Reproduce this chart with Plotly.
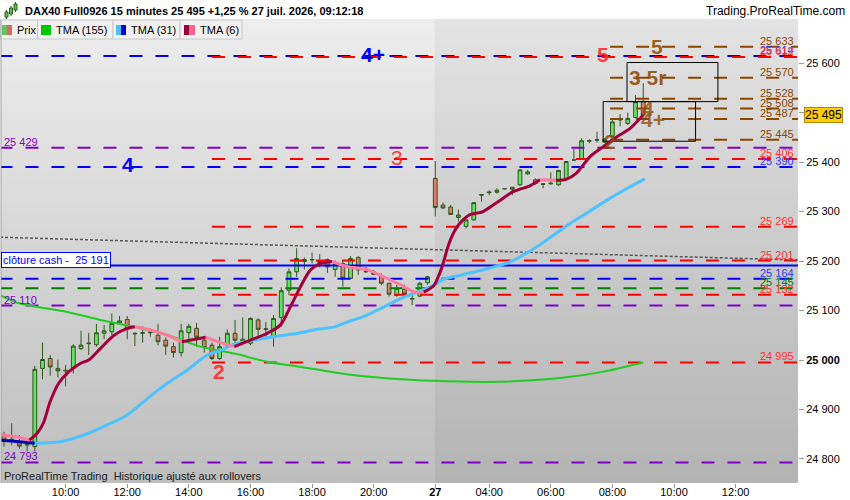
import plotly.graph_objects as go

# 15 min bars: index 0 = 26 juil. 08:00 ... 55 = 21:45, 56 = 27 juil. 02:15 ... 83 = 09:00
opens = [24848, 24835, 24835, 24828, 24825, 24983, 25003, 24983, 24978, 24983,
         25023, 25033, 25031, 25054, 25057, 25075, 25082, 25054, 25054, 25055,
         25050, 25040, 25027, 25015, 25055, 25064, 25040, 25030, 25003, 25030,
         25054, 25037, 25034, 25081, 25062, 25047, 25086, 25141, 25178, 25203,
         25202, 25199, 25203, 25183, 25195, 25165, 25207, 25178, 25178, 25170,
         25155, 25131, 25143, 25123, 25129, 25156,
         25367, 25313, 25309, 25288, 25270, 25283, 25333, 25338, 25339, 25346,
         25349, 25354, 25376, 25364, 25356, 25356, 25354, 25367, 25404, 25407,
         25442, 25444, 25440, 25452, 25485, 25478, 25490, 25522]
highs = [24855, 24872, 24848, 24838, 24988, 25035, 25010, 25001, 24990, 25032,
         25059, 25055, 25073, 25071, 25094, 25089, 25089, 25056, 25068, 25064,
         25073, 25046, 25035, 25073, 25073, 25075, 25046, 25035, 25047, 25062,
         25081, 25086, 25086, 25084, 25077, 25091, 25147, 25185, 25226, 25207,
         25217, 25214, 25205, 25201, 25202, 25210, 25210, 25188, 25182, 25175,
         25156, 25152, 25152, 25131, 25158, 25170,
         25402, 25318, 25313, 25304, 25284, 25319, 25334, 25343, 25347, 25347,
         25349, 25385, 25384, 25367, 25356, 25379, 25384, 25402, 25426, 25448,
         25446, 25461, 25448, 25486, 25497, 25500, 25535, 25559]
lows = [24825, 24828, 24821, 24815, 24815, 24961, 24968, 24965, 24947, 24973,
        25020, 25010, 25027, 25042, 25050, 25073, 25042, 25028, 25035, 25047,
        25030, 25010, 25005, 25007, 25034, 25027, 25015, 25000, 25000, 25027,
        25030, 25034, 25030, 25044, 25047, 25027, 25067, 25131, 25168, 25183,
        25195, 25187, 25176, 25168, 25148, 25163, 25172, 25176, 25172, 25151,
        25128, 25128, 25128, 25111, 25127, 25152,
        25290, 25306, 25293, 25280, 25266, 25282, 25320, 25333, 25336, 25345,
        25333, 25352, 25374, 25354, 25347, 25354, 25352, 25365, 25403, 25405,
        25438, 25439, 25438, 25450, 25472, 25475, 25488, 25493]
closes = [24838, 24840, 24826, 24830, 24981, 25001, 24986, 24978, 24979, 25028,
          25030, 25034, 25055, 25059, 25074, 25079, 25062, 25053, 25055, 25056,
          25037, 25028, 25015, 25059, 25068, 25046, 25025, 25003, 25027, 25054,
          25040, 25042, 25084, 25062, 25063, 25084, 25140, 25178, 25205, 25199,
          25203, 25196, 25188, 25195, 25165, 25205, 25182, 25179, 25173, 25155,
          25133, 25145, 25133, 25124, 25155, 25168,
          25308, 25307, 25294, 25293, 25283, 25318, 25334, 25339, 25343, 25346,
          25345, 25384, 25380, 25357, 25355, 25357, 25383, 25401, 25404, 25443,
          25443, 25445, 25446, 25481, 25488, 25488, 25522, 25495]
bars = list(range(len(closes)))

tick_bars = [8, 16, 24, 32, 40, 48, 56, 63, 71, 79, 87, 95]
tick_labels = ["10:00", "12:00", "14:00", "16:00", "18:00", "20:00", "<b>27</b>",
               "04:00", "06:00", "08:00", "10:00", "12:00"]
price_ticks = [24800, 24900, 25000, 25100, 25200, 25300, 25400, 25500, 25600]

# TMA values
tma6_bars = [-0.5, 1.5, 3.3, 4.3, 5.1, 6.0, 7.1, 8.4, 9.9, 11.0, 12.5, 14.3, 16.0, 17.0,
             19.1, 21.2, 23.1, 25.5, 26.2, 27.7, 29.9, 32.0, 34.2, 35.9, 37.2, 38.5,
             39.8, 41.1, 42.6, 44.5, 47.2, 49.3, 51.5, 53.2, 54.5, 55.8, 56.3, 56.9,
             57.8, 58.7, 59.6, 60.4, 62.2, 63.9, 66.1, 68.3, 69.6, 71.7, 73.0, 74.3,
             76.1, 77.8, 79.6, 81.3, 83.0]
tma6_vals = [24849, 24845, 24838, 24852, 24872, 24916, 24953, 24976, 24993, 25000,
             25023, 25050, 25064, 25067, 25060, 25050, 25037, 25044, 25046, 25037,
             25027, 25040, 25054, 25071, 25108, 25148, 25182, 25195, 25199, 25189,
             25182, 25168, 25152, 25138, 25137, 25150, 25165, 25189, 25236, 25266,
             25283, 25293, 25300, 25317, 25340, 25352, 25364, 25363, 25365, 25377,
             25411, 25431, 25451, 25468, 25495]
tma31_bars = [-0.5, 2.0, 4.0, 7.3, 10.3, 13.4, 16.0, 18.6, 21.2, 23.8, 26.4, 28.2,
              29.9, 34.2, 38.5, 40.3, 42.9, 44.6, 46.4, 48.1, 49.8, 51.6, 53.3, 55.9,
              56.9, 59.5, 62.9, 65.5, 68.2, 70.8, 73.4, 76.0, 78.7, 81.3, 83.2]
tma31_vals = [24838, 24835, 24832, 24835, 24848, 24869, 24889, 24922, 24953, 24980,
              25010, 25020, 25032, 25045, 25055, 25061, 25067, 25077, 25086, 25098,
              25111, 25125, 25135, 25152, 25162, 25172, 25185, 25197, 25219, 25246,
              25275, 25300, 25327, 25350, 25366]
tma155_bars = [-0.5, 2.1, 8.2, 12.5, 16.8, 21.3, 25.5, 29.9, 34.3, 38.6, 45.0, 51.5,
               57.5, 64.5, 72.5, 77.7, 83.0]
tma155_vals = [25131, 25114, 25097, 25081, 25067, 25050, 25027, 25013, 24996, 24986,
               24970, 24961, 24957, 24956, 24964, 24976, 24995]

# horizontal levels
blue_levels = [25614, 25390, 25164]
red_levels = [25612, 25406, 25269, 25201, 25132, 24995]
purple_levels = [25429, 25110, 24793]
green_levels = [25145]
brown_levels = [25633, 25570, 25528, 25508, 25487, 25445]
cash_close = 25191
red_start = 27
brown_start = 78.7

# trendline and boxes
trend_bars = [-0.52, 103.1]
trend_vals = [25248, 25202]
box_start = [80.9, 77.8]
box_end = [92.7, 89.8]
box_low = [25522, 25442]
box_high = [25601, 25522]

X0, X1 = -0.39, 103.1
Y0, Y1 = 24751.5, 25686.9
SPLIT = 55.95
FONT = "Arial, Liberation Sans, sans-serif"


def fmt(v):
    return f"{v:,}".replace(",", " ")


def px(x):  # pixel -> paper
    return (x - 1) / 797


def py(y):
    return (483 - y) / 463


def runs(xs, ys):
    out, start, cur = [], 0, None
    for i in range(1, len(xs)):
        up = ys[i] >= ys[i - 1]
        if cur is None:
            cur = up
        elif up != cur:
            out.append((cur, xs[start:i], ys[start:i]))
            start, cur = i - 1, up
    out.append((cur, xs[start:], ys[start:]))
    return out


def grey(top, bottom, t):
    g = round(bottom + (top - bottom) * t)
    return f"rgb({g},{g},{g})"


fig = go.Figure()
shapes = []
ann = []

# background: vertical gradient, day 27 a bit darker
n = 60
for xa, xb, top, bottom in [(X0 - 1, SPLIT, 237, 190), (SPLIT, X1 + 1, 227, 179)]:
    for i in range(n):
        shapes.append(dict(type="rect", layer="below", xref="x", yref="paper",
                           x0=xa, x1=xb, y0=i / n, y1=(i + 1) / n + 0.002,
                           fillcolor=grey(top, bottom, (i + 0.5) / n), line=dict(width=0)))

fig.add_trace(go.Candlestick(
    x=bars, open=opens, high=highs, low=lows, close=closes,
    increasing=dict(fillcolor="#66e066", line=dict(color="#2d5a1b", width=1)),
    decreasing=dict(fillcolor="#e8786c", line=dict(color="#2d5a1b", width=1)),
    whiskerwidth=0, hoverinfo="skip", showlegend=False))


def hline(v, color, start=X0 - 0.2, dash="13px,13px", width=2):
    fig.add_trace(go.Scatter(x=[start, X1 + 0.5], y=[v, v], mode="lines",
                             line=dict(color=color, width=width, dash=dash),
                             hoverinfo="skip", showlegend=False))


for v in purple_levels:
    hline(v, "#8000c8")
for v in green_levels:
    hline(v, "#008000")
for v in blue_levels:
    hline(v, "#0000ff")
for v in red_levels:
    hline(v, "#ff0000", start=red_start)
for v in brown_levels:
    hline(v, "#8c4600", start=brown_start)
hline(cash_close, "#0000ff", dash="solid")

fig.add_trace(go.Scatter(x=trend_bars, y=trend_vals, mode="lines",
                         line=dict(color="#555555", width=1.5, dash="3px,2px"),
                         hoverinfo="skip", showlegend=False))

for xa, xb, lo, hi in zip(box_start, box_end, box_low, box_high):
    fig.add_trace(go.Scatter(x=[xa, xb, xb, xa, xa], y=[lo, lo, hi, hi, lo], mode="lines",
                             line=dict(color="#000000", width=1),
                             hoverinfo="skip", showlegend=False))

fig.add_trace(go.Scatter(x=tma155_bars, y=tma155_vals, mode="lines",
                         line=dict(color="#22cc22", width=2, shape="spline", smoothing=0.8),
                         hoverinfo="skip", showlegend=False))
for up, xs, ys in runs(tma31_bars, tma31_vals):
    fig.add_trace(go.Scatter(x=xs, y=ys, mode="lines",
                             line=dict(color="#4cc3ff" if up else "#0000b4", width=3,
                                       shape="spline", smoothing=0.8),
                             hoverinfo="skip", showlegend=False))
for up, xs, ys in runs(tma6_bars, tma6_vals):
    fig.add_trace(go.Scatter(x=xs, y=ys, mode="lines",
                             line=dict(color="#a0003c" if up else "#ff7b9c", width=3,
                                       shape="spline", smoothing=0.8),
                             hoverinfo="skip", showlegend=False))

# level values on the right / left
right_labels = ([(v, "#3333ff") for v in blue_levels] +
                [(v, "#008000") for v in green_levels] +
                [(v, "#8c4600") for v in brown_levels] +
                [(v, "#ff3030") for v in red_levels])
for v, c in right_labels:
    ann.append(dict(xref="paper", yref="y", x=px(796), y=v, xanchor="right", yanchor="bottom",
                    yshift=-2, text=fmt(v), showarrow=False, font=dict(family=FONT, size=11, color=c)))
for v in purple_levels:
    ann.append(dict(xref="paper", yref="y", x=px(2), y=v, xanchor="left", yanchor="bottom",
                    yshift=-2, text=fmt(v), showarrow=False, font=dict(family=FONT, size=11, color="#8000c8")))

ann.append(dict(xref="paper", yref="y", x=px(1), y=cash_close, xanchor="left", yanchor="bottom",
                yshift=-3, text="clôture cash -\u00a0\u00a025 191", showarrow=False,
                bgcolor="#ffffff", bordercolor="#0000ff", borderwidth=1, borderpad=1,
                font=dict(family=FONT, size=11, color="#0000ff")))

# wave tags
big = lambda c: dict(family=FONT, size=21, color=c)
tags = [(47.9, blue_levels[0], "<b>4+</b>", "#0000ff", 2),
        (16.1, blue_levels[1], "<b>4</b>", "#0000ff", 2),
        (77.8, red_levels[0], "<b>5</b>", "rgba(255,40,40,0.9)", 3),
        (51.0, red_levels[1], "3", "rgba(255,40,40,0.9)", 2),
        (27.9, red_levels[5], "<b>2</b>", "rgba(255,40,40,0.9)", -9),
        (84.8, brown_levels[0], "<b>5</b>", "rgba(140,70,0,0.85)", 0),
        (83.5, brown_levels[1], "<b>3 5r</b>", "rgba(140,70,0,0.85)", 0),
        (83.6, brown_levels[3], "<b>4</b>", "rgba(140,70,0,0.75)", 0),
        (84.3, brown_levels[4], "<b>4+</b>", "rgba(140,70,0,0.75)", -1),
        (78.7, brown_levels[5], "<b>2</b>", "rgba(140,70,0,0.85)", -2)]
for x, y, t, c, s in tags:
    ann.append(dict(x=x, y=y, text=t, showarrow=False, xanchor="center", yanchor="middle",
                    yshift=s, font=big(c)))

# price tag
ann.append(dict(xref="paper", yref="y", x=1, y=closes[-1], xanchor="left", yanchor="middle",
                xshift=6, text=fmt(closes[-1]), showarrow=False, bgcolor="#ffcc00",
                bordercolor="#b08800", borderwidth=1, borderpad=0,
                font=dict(family=FONT, size=12, color="#000000")))

# header
ann.append(dict(xref="paper", yref="paper", x=px(23), y=py(11), xanchor="left", yanchor="middle",
                text="<b>DAX40 Full0926 15 minutes 25 495 +1,25 % 27 juil. 2026, 09:12:18</b>",
                showarrow=False, font=dict(family=FONT, size=11, color="#000000")))
ann.append(dict(xref="paper", yref="paper", x=px(847), y=py(11), xanchor="right", yanchor="middle",
                text="Trading.ProRealTime.com", showarrow=False,
                font=dict(family=FONT, size=12, color="#000000")))
ann.append(dict(xref="paper", yref="paper", x=px(2), y=py(476), xanchor="left", yanchor="middle",
                text="ProRealTime Trading\u00a0\u00a0Historique ajusté aux rollovers", showarrow=False,
                font=dict(family=FONT, size=11, color="#202020")))

# icon candles
for xa, xb, ya, yb, wa, wb in [(5, 8, 12, 17, 10, 19), (9.5, 12.5, 8, 14, 6, 16), (14, 17, 4, 10, 2, 12)]:
    shapes.append(dict(type="line", xref="paper", yref="paper", x0=px((xa + xb) / 2), x1=px((xa + xb) / 2),
                       y0=py(wa), y1=py(wb), line=dict(color="#2d5a1b", width=1)))
    shapes.append(dict(type="rect", xref="paper", yref="paper", x0=px(xa), x1=px(xb), y0=py(ya), y1=py(yb),
                       fillcolor="#55cc44", line=dict(color="#2d5a1b", width=1)))

# legend row
legend_boxes = [(0, 37.5), (37.5, 113), (113, 180), (180, 242)]
for xa, xb in legend_boxes:
    shapes.append(dict(type="rect", xref="paper", yref="paper", x0=px(xa), x1=px(xb), y0=py(39), y1=py(20),
                       fillcolor="#f0f0f0", line=dict(color="#c8c8c8", width=1)))
swatches = [(2, 7, "#5ec85e"), (7, 12, "#e06464"), (41, 51, "#00c800"),
            (116, 121, "#50beff"), (121, 126, "#0000c8"), (184, 189, "#96003c"), (189, 195, "#ff648c")]
for xa, xb, c in swatches:
    shapes.append(dict(type="rect", xref="paper", yref="paper", x0=px(xa), x1=px(xb), y0=py(35), y1=py(25),
                       fillcolor=c, line=dict(width=0)))
for x, t in [(15, "Prix"), (54, "TMA (155)"), (129, "TMA (31)"), (198, "TMA (6)")]:
    ann.append(dict(xref="paper", yref="paper", x=px(x), y=py(30), xanchor="left", yanchor="middle",
                    text=t, showarrow=False, font=dict(family=FONT, size=11, color="#000000")))

shapes.append(dict(type="line", xref="paper", yref="paper", x0=0, x1=0, y0=0, y1=1,
                   line=dict(color="#a0a0a0", width=1)))

fig.update_layout(
    width=850, height=500,
    margin=dict(l=1, r=52, t=20, b=17, autoexpand=False),
    paper_bgcolor="#ffffff", plot_bgcolor="#d8d8d8",
    showlegend=False,
    annotations=ann, shapes=shapes,
    font=dict(family=FONT, size=11, color="#000000"),
    xaxis=dict(range=[X0, X1], tickvals=tick_bars, ticktext=tick_labels, ticks="outside",
               ticklen=4, tickcolor="#999999", showgrid=False, zeroline=False, showline=False,
               automargin=False, ticklabelstandoff=-5, rangeslider=dict(visible=False),
               tickfont=dict(family=FONT, size=11, color="#000000")),
    yaxis=dict(range=[Y0, Y1], side="right", tickvals=price_ticks,
               ticktext=[("<b>%s</b>" % fmt(v)) if v == 25000 else fmt(v) for v in price_ticks],
               ticks="outside", ticklen=5, tickcolor="#999999", showgrid=False, zeroline=False,
               showline=False, automargin=False,
               tickfont=dict(family=FONT, size=11, color="#000000")),
)

fig.write_html("out.html", config={"displayModeBar": False},
               post_script="document.body.style.margin='0';")
